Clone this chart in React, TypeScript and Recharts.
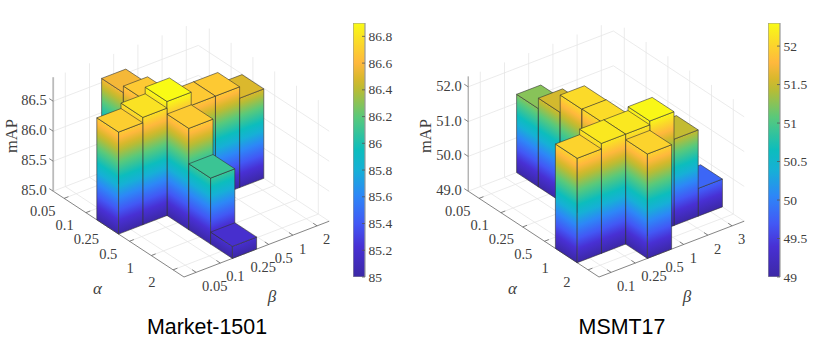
import { Bar, BarChart, Scatter, ScatterChart, XAxis, YAxis } from "recharts";

// colormap: offset, r, g, b
const PARULA = [
  [0, 60, 40, 166], [0.12, 72, 48, 212], [0.21, 66, 88, 245], [0.32, 45, 135, 247],
  [0.42, 22, 176, 214], [0.5, 12, 189, 189], [0.63, 90, 201, 122], [0.737, 184, 188, 53],
  [0.78, 216, 184, 44], [0.843, 255, 184, 61], [0.92, 251, 216, 42], [1, 249, 251, 21],
];

const alphaLabels = ["0.05", "0.1", "0.25", "0.5", "1", "2"];
const marketBetaLabels = ["0.05", "0.1", "0.25", "0.5", "1", "2"];
const msmtBetaLabels = ["0.1", "0.25", "0.5", "1", "2", "3"];

// mAP when alpha is swept with beta fixed, and the other way round
const marketAlphaSweep = [86.57, 86.68, 86.9, 86.69, 86.1, 85.2];
const marketBetaSweep = [86.7, 86.79, 86.9, 86.68, 86.68, 86.49];
const msmtAlphaSweep = [51.25, 51.55, 52.05, 52.06, 52.16, 52.0];
const msmtBetaSweep = [52.0, 52.16, 52.16, 52.27, 51.48, 49.8];

const marketZTicks = [85, 85.5, 86, 86.5];
const msmtZTicks = [49, 50, 51, 52];
const marketBarTicks = [85, 85.2, 85.4, 85.6, 85.8, 86, 86.2, 86.4, 86.6, 86.8];
const msmtBarTicks = [49, 49.5, 50, 50.5, 51, 51.5, 52];

const SERIF = "Liberation Serif";
const SANS = "Liberation Sans";
const INK = "#404040";
const GRID = "#e6e6e6";

// screen step of one grid cell along alpha (u) and beta (v)
const UX = 21.8;
const UY = 14.3;
const VX = 24.2;
const VY = 9.3;
const FLOOR_Y = 277;
const N = 6;

function parula(t: number) {
  const x = Math.max(0, Math.min(1, t));
  let i = 0;
  while (i < PARULA.length - 2 && PARULA[i + 1][0] < x) i++;
  const a = PARULA[i];
  const b = PARULA[i + 1];
  const f = (x - a[0]) / (b[0] - a[0]);
  const c = [1, 2, 3].map((k) => Math.round(a[k] + (b[k] - a[k]) * f));
  return `rgb(${c[0]},${c[1]},${c[2]})`;
}

const stopList = PARULA.map((s) => s[0]);

interface PanelProps {
  id: string;
  left: number;
  frontX: number;
  zPx: number;
  zMin: number;
  zMax: number;
  zTicks: number[];
  alphaSweep: number[];
  betaSweep: number[];
  crossAlpha: number;
  crossBeta: number;
  betaLabels: string[];
  title: string;
  titleX: number;
  zAxisColor: string;
  zAxisWidth: number;
  labelX: number;
}

function Panel(props: PanelProps) {
  const { id, left, frontX, zPx, zMin, zMax, zTicks, alphaSweep, betaSweep, crossAlpha, crossBeta, betaLabels } = props;
  const width = 415;
  const height = 354;
  const x0 = frontX - left;

  const project = (u: number, v: number, z: number) => ({
    sx: v * VX - u * UX,
    sy: u * UY + v * VY + (z - zMin) * zPx,
  });

  // bars: a cross of two sweeps, painted back to front
  const cells: { u: number; v: number; value: number }[] = [];
  alphaSweep.forEach((value, a) => cells.push({ u: N - 1 - a, v: crossBeta, value }));
  betaSweep.forEach((value, b) => {
    if (b !== crossBeta) cells.push({ u: N - 1 - crossAlpha, v: b, value });
  });
  cells.sort((p, q) => q.u + q.v - (p.u + p.v));
  const barData = cells.map((c) => ({ ...c, ...project(c.u, c.v, zMin) }));

  const seg = (a: { sx: number; sy: number }, b: { sx: number; sy: number }, stroke: string, sw: number) => ({
    sx: a.sx, sy: a.sy, ex: b.sx, ey: b.sy, stroke, sw,
  });

  const gridLines: ReturnType<typeof seg>[] = [];
  for (let i = 0; i < N; i++) {
    const c = i + 0.5;
    gridLines.push(seg(project(c, 0, zMin), project(c, N, zMin), GRID, 0.8));
    gridLines.push(seg(project(0, c, zMin), project(N, c, zMin), GRID, 0.8));
    gridLines.push(seg(project(N, c, zMin), project(N, c, zMax), GRID, 0.8));
    gridLines.push(seg(project(c, N, zMin), project(c, N, zMax), GRID, 0.8));
  }
  zTicks.forEach((z) => {
    gridLines.push(seg(project(N, 0, z), project(N, N, z), GRID, 0.8));
    gridLines.push(seg(project(N, N, z), project(0, N, z), GRID, 0.8));
  });

  const axisLines: ReturnType<typeof seg>[] = [
    seg(project(N, 0, zMin), project(0, 0, zMin), "#666", 0.8),
    seg(project(0, 0, zMin), project(0, N, zMin), "#666", 0.8),
    seg(project(N, 0, zMin), project(N, 0, zMax), props.zAxisColor, props.zAxisWidth),
  ];
  for (let i = 0; i < N; i++) {
    const c = i + 0.5;
    axisLines.push(seg(project(c, 0, zMin), project(c, 0.18, zMin), "#666", 0.8));
    axisLines.push(seg(project(0, c, zMin), project(0.18, c, zMin), "#666", 0.8));
  }
  zTicks.forEach((z) => axisLines.push(seg(project(N, 0, z), project(N + 0.18, 0, z), "#666", 0.8)));

  const fmt = (z: number) => z.toFixed(1);
  const labels: any[] = [];
  zTicks.forEach((z) => {
    const p = project(N, 0, z);
    labels.push({ ...p, text: fmt(z), dx: -6.5, dy: -1, anchor: "end", size: 14.5, family: SERIF, color: INK });
  });
  alphaLabels.forEach((text, a) => {
    const p = project(N - 1 - a + 0.5, 0, zMin);
    labels.push({ ...p, text, dx: -21.3, dy: 12.4, anchor: "middle", size: 14.5, family: SERIF, color: INK });
  });
  betaLabels.forEach((text, b) => {
    const p = project(0, b + 0.5, zMin);
    labels.push({ ...p, text, dx: 6, dy: 13.4, anchor: "start", size: 14.5, family: SERIF, color: INK });
  });
  const front = project(0, 0, zMin);
  labels.push({ ...front, text: "α", dx: -86.5, dy: 11, anchor: "middle", size: 17, family: SERIF, color: INK, italic: true });
  labels.push({ ...front, text: "β", dx: 88, dy: 19, anchor: "middle", size: 17, family: SERIF, color: INK, italic: true });
  labels.push({ ...front, text: props.title, dx: props.titleX - frontX, dy: 50, anchor: "middle", size: 21.4, family: SANS, color: "#000" });
  const mapLabel = { ...front, text: "mAP", dx: props.labelX - frontX, dy: -141, anchor: "middle", size: 16.5, family: SERIF, color: INK, rotate: true };
  labels.push(mapLabel);

  const renderLine = (p: any) => {
    const d = p.payload;
    return <line x1={p.cx} y1={p.cy} x2={p.cx + d.ex - d.sx} y2={p.cy - (d.ey - d.sy)} stroke={d.stroke} strokeWidth={d.sw} />;
  };

  const renderLabel = (p: any) => {
    const d = p.payload;
    const x = p.cx + d.dx;
    const y = p.cy + d.dy;
    return (
      <text
        x={x}
        y={y}
        textAnchor={d.anchor}
        dominantBaseline="central"
        fontFamily={d.family}
        fontSize={d.size}
        fontStyle={d.italic ? "italic" : "normal"}
        fill={d.color}
        transform={d.rotate ? `rotate(-90 ${x} ${y})` : undefined}
      >
        {d.text}
      </text>
    );
  };

  const renderBar = (p: any) => {
    const d = p.payload;
    const at = (u: number, v: number, z: number) => {
      const q = project(u, v, z);
      return [p.cx + q.sx - d.sx, p.cy - (q.sy - d.sy)];
    };
    const pts = (list: number[][]) => list.map((q) => q.join(",")).join(" ");
    const fullH = (zMax - zMin) * zPx;
    // gradient runs across the z isolines, which follow the bar's floor edge on screen
    const grad = (name: string, base: number[], ex: number, ey: number) => {
      const len = Math.hypot(ex, ey);
      const nx = -ey / len;
      const ny = ex / len;
      const k = -fullH * ny;
      return (
        <linearGradient id={name} gradientUnits="userSpaceOnUse" x1={base[0]} y1={base[1]} x2={base[0] + nx * k} y2={base[1] + ny * k}>
          {stopList.map((t) => (
            <stop key={t} offset={t} stopColor={parula(t)} />
          ))}
        </linearGradient>
      );
    };
    const { u, v, value } = d;
    const base = at(u, v, zMin);
    const idL = `${id}-l-${u}-${v}`;
    const idR = `${id}-r-${u}-${v}`;
    const edge = { stroke: "#333", strokeOpacity: 0.85, strokeWidth: 0.7, strokeLinejoin: "round" as const };
    return (
      <g>
        <defs>
          {grad(idL, base, -UX, -UY)}
          {grad(idR, base, VX, -VY)}
        </defs>
        <polygon
          points={pts([at(u + 1, v, zMin), base, at(u, v, value), at(u + 1, v, value)])}
          fill={`url(#${idL})`}
          {...edge}
        />
        <polygon
          points={pts([base, at(u, v + 1, zMin), at(u, v + 1, value), at(u, v, value)])}
          fill={`url(#${idR})`}
          {...edge}
        />
        <polygon
          points={pts([at(u, v, value), at(u, v + 1, value), at(u + 1, v + 1, value), at(u + 1, v, value)])}
          fill={parula((value - zMin) / (zMax - zMin))}
          {...edge}
        />
      </g>
    );
  };

  return (
    <div style={{ position: "absolute", left, top: 0, width, height }}>
      <ScatterChart width={width} height={height} margin={{ top: 0, right: 0, bottom: 0, left: 0 }}>
        <XAxis type="number" dataKey="sx" hide allowDataOverflow domain={[-x0, width - x0]} />
        <YAxis type="number" dataKey="sy" hide allowDataOverflow domain={[FLOOR_Y - height, FLOOR_Y]} />
        <Scatter data={gridLines} shape={renderLine} isAnimationActive={false} />
        <Scatter data={axisLines} shape={renderLine} isAnimationActive={false} />
        <Scatter data={barData} shape={renderBar} isAnimationActive={false} />
        <Scatter data={labels} shape={renderLabel} isAnimationActive={false} />
      </ScatterChart>
    </div>
  );
}

function ColorBar({ id, left, min, max, ticks }: { id: string; left: number; min: number; max: number; ticks: number[] }) {
  const data = [{ name: "scale", range: [min, max] }];
  const renderTick = (p: any) => (
    <g>
      <line x1={p.x - 3} x2={p.x} y1={p.y} y2={p.y} stroke="#555" strokeWidth={0.8} />
      <text x={p.x + 3.5} y={p.y} dominantBaseline="central" fontFamily={SERIF} fontSize={13.5} fill={INK}>
        {p.payload.value}
      </text>
    </g>
  );
  return (
    <div style={{ position: "absolute", left, top: 13, width: 60, height: 274 }}>
      <BarChart width={60} height={274} data={data} barCategoryGap={0} margin={{ top: 10, right: 0, bottom: 10, left: 0 }}>
        <defs>
          <linearGradient id={id} x1="0" y1="1" x2="0" y2="0">
            {stopList.map((t) => (
              <stop key={t} offset={t} stopColor={parula(t)} />
            ))}
          </linearGradient>
        </defs>
        <XAxis dataKey="name" hide />
        <YAxis
          orientation="right"
          width={48}
          domain={[min, max]}
          ticks={ticks}
          allowDataOverflow
          interval={0}
          axisLine={false}
          tickLine={false}
          tickSize={0}
          tickMargin={0}
          tick={renderTick}
        />
        <Bar dataKey="range" fill={`url(#${id})`} stroke="#999" strokeWidth={1.2} isAnimationActive={false} />
      </BarChart>
    </div>
  );
}

export default function App() {
  return (
    <div style={{ position: "absolute", left: 0, top: 0, width: 830, height: 354, background: "#fff", overflow: "hidden" }}>
      <Panel
        id="market"
        left={0}
        frontX={184}
        zPx={60}
        zMin={85}
        zMax={86.9}
        zTicks={marketZTicks}
        alphaSweep={marketAlphaSweep}
        betaSweep={marketBetaSweep}
        crossAlpha={2}
        crossBeta={2}
        betaLabels={marketBetaLabels}
        title="Market-1501"
        titleX={207}
        zAxisColor="#bbb"
        zAxisWidth={1.8}
        labelX={11}
      />
      <Panel
        id="msmt"
        left={415}
        frontX={599}
        zPx={34.8}
        zMin={49}
        zMax={52.3}
        zTicks={msmtZTicks}
        alphaSweep={msmtAlphaSweep}
        betaSweep={msmtBetaSweep}
        crossAlpha={4}
        crossBeta={2}
        betaLabels={msmtBetaLabels}
        title="MSMT17"
        titleX={622}
        zAxisColor="#777"
        zAxisWidth={0.8}
        labelX={425}
      />
      <ColorBar id="cb-market" left={353} min={85} max={86.9} ticks={marketBarTicks} />
      <ColorBar id="cb-msmt" left={768} min={49} max={52.3} ticks={msmtBarTicks} />
    </div>
  );
}
